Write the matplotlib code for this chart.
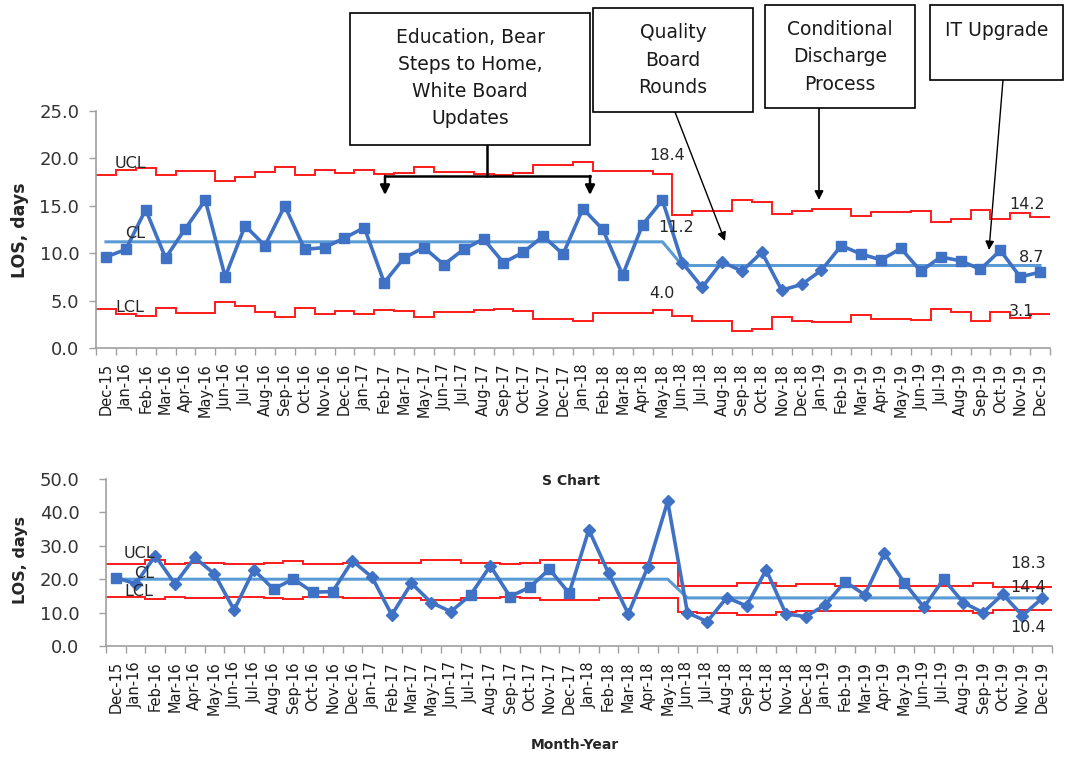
import numpy as np
import matplotlib
matplotlib.use('Agg')
from matplotlib import pyplot as plt
from matplotlib.patches import Rectangle
from matplotlib.lines import Line2D

# Month labels (Apr-17 is absent in the source chart)
months = ['Dec-15',
          'Jan-16', 'Feb-16', 'Mar-16', 'Apr-16', 'May-16', 'Jun-16',
          'Jul-16', 'Aug-16', 'Sep-16', 'Oct-16', 'Nov-16', 'Dec-16',
          'Jan-17', 'Feb-17', 'Mar-17', 'May-17', 'Jun-17',
          'Jul-17', 'Aug-17', 'Sep-17', 'Oct-17', 'Nov-17', 'Dec-17',
          'Jan-18', 'Feb-18', 'Mar-18', 'Apr-18', 'May-18', 'Jun-18',
          'Jul-18', 'Aug-18', 'Sep-18', 'Oct-18', 'Nov-18', 'Dec-18',
          'Jan-19', 'Feb-19', 'Mar-19', 'Apr-19', 'May-19', 'Jun-19',
          'Jul-19', 'Aug-19', 'Sep-19', 'Oct-19', 'Nov-19', 'Dec-19']

# X-bar chart (mean LOS)
xbar_values = [9.6, 10.4, 14.6, 9.5, 12.6, 15.6, 7.5, 12.9, 10.8, 15.0, 10.4, 10.6,
               11.6, 12.7, 6.9, 9.5, 10.6, 8.8, 10.4, 11.5, 9.0, 10.1, 11.8, 9.9,
               14.7, 12.5, 7.7, 13.0, 15.6, 9.0, 6.4, 9.1, 8.1, 10.1, 6.1, 6.7,
               8.2, 10.8, 9.9, 9.3, 10.5, 8.1, 9.6, 9.2, 8.3, 10.3, 7.5, 8.0]
xbar_cl = [11.2] * 29 + [8.7] * 19
xbar_ucl = [18.3, 18.8, 19.0, 18.2, 18.7, 18.7, 17.6, 18.0, 18.6, 19.1, 18.2, 18.8,
            18.5, 18.8, 18.4, 18.5, 19.1, 18.6, 18.6, 18.4, 18.3, 18.5, 19.3, 19.3,
            19.6, 18.7, 18.7, 18.7, 18.4, 14.0, 14.5, 14.5, 15.6, 15.4, 14.1, 14.5,
            14.7, 14.7, 13.9, 14.3, 14.3, 14.4, 13.3, 13.6, 14.6, 13.6, 14.2, 13.8]
xbar_lcl = [4.1, 3.6, 3.4, 4.2, 3.7, 3.7, 4.8, 4.4, 3.8, 3.3, 4.2, 3.6,
            3.9, 3.6, 4.0, 3.9, 3.3, 3.8, 3.8, 4.0, 4.1, 3.9, 3.1, 3.1,
            2.8, 3.7, 3.7, 3.7, 4.0, 3.4, 2.9, 2.9, 1.8, 2.0, 3.3, 2.9,
            2.7, 2.7, 3.5, 3.1, 3.1, 3.0, 4.1, 3.8, 2.8, 3.8, 3.2, 3.6]
xbar_diamonds = ['Jun-18', 'Jul-18', 'Aug-18', 'Sep-18', 'Oct-18', 'Nov-18', 'Dec-18', 'Jan-19']

# S chart (standard deviation of LOS)
s_values = [20.5, 18.6, 27.0, 18.6, 26.5, 21.6, 10.8, 22.8, 17.0, 20.1, 16.1, 16.3,
            25.5, 20.6, 9.3, 18.8, 13.0, 10.3, 15.3, 24.0, 14.8, 17.6, 23.0, 15.8,
            34.8, 21.8, 9.6, 23.8, 43.3, 10.0, 7.3, 14.5, 12.0, 22.8, 9.6, 8.8,
            12.3, 19.3, 15.3, 27.8, 19.0, 11.6, 20.0, 13.0, 10.0, 15.5, 9.1, 14.3]
s_cl = [20.0] * 29 + [14.4] * 19
s_ucl = [24.5, 24.6, 25.6, 24.6, 24.8, 24.8, 24.5, 24.5, 24.8, 25.5, 24.6, 24.6,
         25.0, 25.0, 24.8, 25.0, 25.8, 25.8, 25.0, 25.0, 24.5, 25.0, 25.6, 25.6,
         25.6, 25.0, 25.0, 25.0, 25.0, 18.0, 18.0, 18.0, 19.0, 19.0, 18.0, 18.5,
         18.5, 18.0, 18.0, 18.0, 18.0, 18.0, 18.0, 18.0, 18.8, 17.6, 17.6, 17.6]
s_lcl = [14.8, 14.6, 14.0, 14.6, 14.5, 14.5, 14.8, 14.8, 14.5, 14.0, 14.6, 14.6,
         14.3, 14.3, 14.5, 14.3, 13.8, 13.8, 14.3, 14.3, 14.8, 14.3, 13.9, 13.9,
         13.9, 14.3, 14.3, 14.3, 14.3, 10.3, 10.0, 10.0, 9.3, 9.3, 10.3, 10.6,
         10.6, 10.6, 10.6, 10.6, 10.6, 10.6, 10.6, 10.6, 9.8, 10.8, 10.8, 10.8]
s_squares = ['Dec-15', 'Aug-16', 'Sep-16', 'Oct-16', 'Nov-16', 'Jul-17', 'Sep-17',
             'Oct-17', 'Nov-17', 'Dec-17', 'Feb-19', 'May-19', 'Jul-19']

BLUE = '#3F72C4'
CL_BLUE = '#5B9BD5'
RED = '#FF1A1A'
GRAY = '#A0A0A0'

W, H = 1066, 770


def fx(px):
    return px / W


def fy(py):
    return 1 - py / H


def style_axes(ax, ylim, yticks, ypad):
    ax.set_xlim(-0.5, len(months) - 0.5)
    ax.set_ylim(*ylim)
    ax.set_yticks(yticks)
    ax.set_yticklabels(['%.1f' % v for v in yticks], fontsize=13, color='#333333')
    ax.set_xticks(np.arange(len(months)))
    ax.set_xticklabels(months, rotation=90, fontsize=10.5, color='#1a1a1a')
    ax.set_xticks(np.arange(len(months) + 1) - 0.5, minor=True)
    ax.tick_params(axis='x', which='major', length=0, pad=11)
    ax.tick_params(axis='x', which='minor', length=5, color=GRAY, width=1)
    ax.tick_params(axis='y', length=5, color=GRAY, width=1, pad=ypad)
    for side in ['top', 'right']:
        ax.spines[side].set_visible(False)
    for side in ['left', 'bottom']:
        ax.spines[side].set_color(GRAY)
        ax.spines[side].set_linewidth(1.2)
    ax.patch.set_alpha(0)


def draw_chart(ax, values, cl, ucl, lcl, square_idx, diamond_idx):
    x = np.arange(len(values))
    edges = np.arange(len(values) + 1) - 0.5
    ax.stairs(ucl, edges, baseline=None, color=RED, lw=1.4, zorder=2)
    ax.stairs(lcl, edges, baseline=None, color=RED, lw=1.4, zorder=2)
    ax.plot(x, cl, color=CL_BLUE, lw=2.2, zorder=3)
    ax.plot(x, values, color=BLUE, lw=2.6, zorder=4)
    v = np.array(values)
    ax.plot(x[square_idx], v[square_idx], 's', color=BLUE, ms=7, zorder=5)
    ax.plot(x[diamond_idx], v[diamond_idx], 'D', color=BLUE, ms=6.5, zorder=5)


fig = plt.figure(figsize=(W / 100, H / 100), dpi=100)

# ---- top: X-bar chart
ax1 = fig.add_axes([fx(96), fy(348), (1050 - 96) / W, (348 - 111) / H])
idx_all = np.arange(len(months))
dia1 = np.array([months.index(m) for m in xbar_diamonds])
sq1 = np.array([i for i in idx_all if i not in dia1])
draw_chart(ax1, xbar_values, xbar_cl, xbar_ucl, xbar_lcl, sq1, dia1)
style_axes(ax1, (0, 25), [0, 5, 10, 15, 20, 25], 7)

# ---- bottom: S chart
ax2 = fig.add_axes([fx(106), fy(646), (1052 - 106) / W, (646 - 479) / H])
sq2 = np.array([months.index(m) for m in s_squares])
dia2 = np.array([i for i in idx_all if i not in sq2])
draw_chart(ax2, s_values, s_cl, s_ucl, s_lcl, sq2, dia2)
style_axes(ax2, (0, 50), [0, 10, 20, 30, 40, 50], 14)

# axis titles
fig.text(fx(20), fy(230), 'LOS, days', rotation=90, fontsize=12.5, fontweight='bold',
         ha='center', va='center', color='#262626')
fig.text(fx(20), fy(560), 'LOS, days', rotation=90, fontsize=11.5, fontweight='bold',
         ha='center', va='center', color='#262626')
fig.text(fx(575), fy(745), 'Month-Year', fontsize=10, fontweight='bold',
         ha='center', va='center', color='#262626')
fig.text(fx(571), fy(481), 'S Chart', fontsize=10, fontweight='bold',
         ha='center', va='center', color='#262626')

# limit labels
small = dict(fontsize=11.5, color='#262626', va='center')
for txt, px, py, ha in [('UCL', 115, 163, 'left'), ('CL', 125, 234, 'left'),
                        ('LCL', 115, 307, 'left'), ('18.4', 667, 156, 'center'),
                        ('11.2', 676, 228, 'center'), ('4.0', 662, 294, 'center'),
                        ('14.2', 1027, 205, 'center'), ('8.7', 1032, 258, 'center'),
                        ('3.1', 1021, 312, 'center'),
                        ('UCL', 124, 554, 'left'), ('CL', 134, 573, 'left'),
                        ('LCL', 124, 591, 'left'), ('18.3', 1028, 563, 'center'),
                        ('14.4', 1028, 588, 'center'), ('10.4', 1028, 627, 'center')]:
    fig.text(fx(px), fy(py), txt, ha=ha, **small)

# annotation boxes
boxes = [('Education, Bear\nSteps to Home,\nWhite Board\nUpdates', 350, 13, 590, 145, 78),
         ('Quality\nBoard\nRounds', 593, 8, 753, 112, 60),
         ('Conditional\nDischarge\nProcess', 765, 5, 915, 108, 57),
         ('IT Upgrade', 930, 5, 1063, 80, 31)]
for txt, x0, y0, x1, y1, ty in boxes:
    fig.patches.append(Rectangle((fx(x0), fy(y1)), (x1 - x0) / W, (y1 - y0) / H,
                                 transform=fig.transFigure, fill=True, facecolor='white',
                                 edgecolor='black', lw=1.2, zorder=10))
    fig.text(fx((x0 + x1) / 2), fy(ty), txt, ha='center', va='center', fontsize=13.5,
             linespacing=1.55, color='#1a1a1a', zorder=11)


def arrow(p0, p1, lw=1.0, head=10):
    fig.add_artist(plt.Annotation('', xy=(fx(p1[0]), fy(p1[1])), xycoords='figure fraction',
                                  xytext=(fx(p0[0]), fy(p0[1])), textcoords='figure fraction',
                                  arrowprops=dict(arrowstyle='-|>', color='black', lw=lw,
                                                  mutation_scale=head, shrinkA=0, shrinkB=0)))


def seg(p0, p1, lw=1.8):
    fig.add_artist(Line2D([fx(p0[0]), fx(p1[0])], [fy(p0[1]), fy(p1[1])],
                          transform=fig.transFigure, color='black', lw=lw))


# bracket from the education box
seg((487, 145), (487, 176))
seg((385, 176), (590, 176))
arrow((385, 176), (385, 195), lw=1.8, head=14)
arrow((590, 176), (590, 195), lw=1.8, head=14)

arrow((675, 112), (725, 241), lw=1.0, head=13)
arrow((819, 108), (819, 200), lw=1.2, head=13)
arrow((1003, 80), (989, 250), lw=1.0, head=13)

fig.savefig('out.png', dpi=100)
